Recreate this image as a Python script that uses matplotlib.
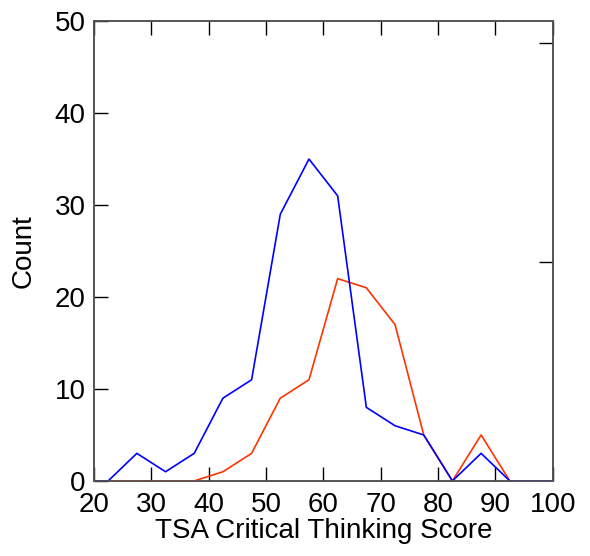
import matplotlib
matplotlib.use('Agg')
import matplotlib.pyplot as plt

score = [17.5, 22.5, 27.5, 32.5, 37.5, 42.5, 47.5, 52.5, 57.5, 62.5, 67.5, 72.5, 77.5, 82.5, 87.5, 92.5, 97.5, 102.5]
count_blue = [0, 0, 3, 1, 3, 9, 11, 29, 35, 31, 8, 6, 5, 0, 3, 0, 0, 0]
count_red = [0, 0, 0, 0, 0, 1, 3, 9, 11, 22, 21, 17, 5, 0, 5, 0, 0, 0]

plt.rcParams['font.family'] = ['Liberation Sans', 'DejaVu Sans']

fig = plt.figure(figsize=(5.9, 5.56), dpi=100)
ax = fig.add_axes([0.159, 0.135, 0.778, 0.827])
ax.plot(score, count_red, color='#ff3300', lw=1.2, zorder=2)
ax.plot(score, count_blue, color='#0000ff', lw=1.2, zorder=3)
ax.set_xlim(20, 100)
ax.set_ylim(0, 50)
ax.set_xticks(range(20, 101, 10))
ax.set_yticks(range(0, 51, 10))
ax.tick_params(axis='both', direction='in', length=10, width=1, labelsize=20, top=True)
ax.tick_params(axis='x', pad=8)
ax.tick_params(axis='y', pad=6)
ax.set_xlabel('TSA Critical Thinking Score', fontsize=20, labelpad=0)
ax.set_ylabel('Count', fontsize=20, labelpad=13)
for s in ax.spines.values():
    s.set_color('#555555')
    s.set_linewidth(1.2)
    s.set_zorder(1)

ax2 = ax.twinx()
ax2.set_ylim(0, 1.05)
ax2.set_yticks([0.5, 1.0])
ax2.tick_params(axis='y', direction='in', length=10, width=1, labelright=False)
for s in ax2.spines.values():
    s.set_color('#555555')
    s.set_linewidth(1.2)

fig.savefig('out.png', dpi=100)
